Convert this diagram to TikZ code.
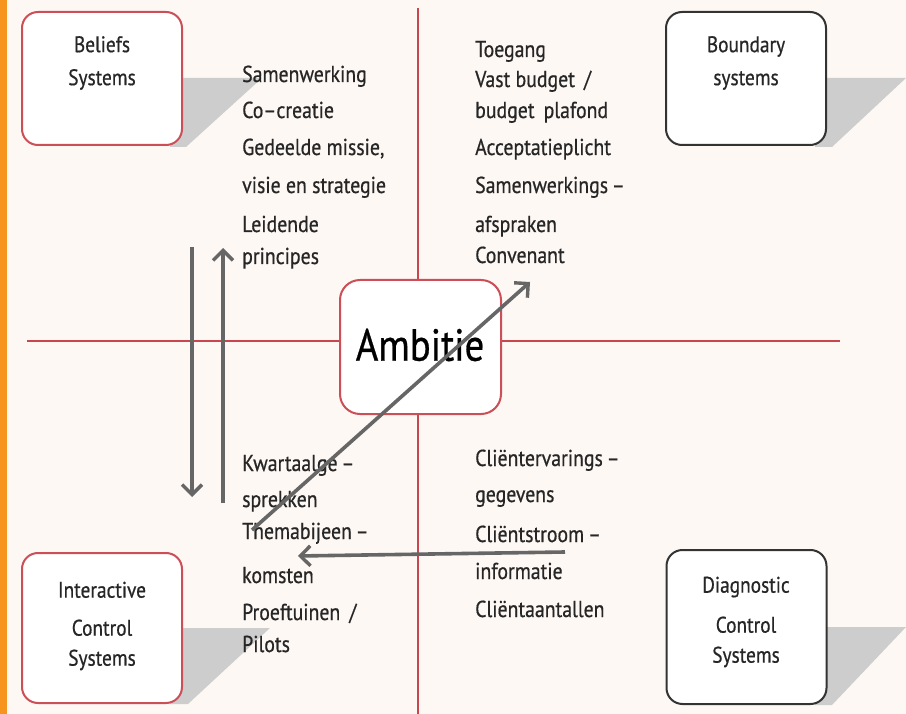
\documentclass[tikz,border=0pt]{standalone}
\usepackage{fontspec}
\setmainfont[FakeStretch=0.86, FakeBold=0.6]{PT Sans}
\usepackage{xcolor}
\usetikzlibrary{arrows.meta, positioning, calc}

\definecolor{bgcream}{HTML}{FDF8F4}
\definecolor{edgeorange}{HTML}{F7941D}
\definecolor{axisred}{HTML}{C8474F}
\definecolor{boxred}{HTML}{CC4F57}
\definecolor{boxdark}{HTML}{333333}
\definecolor{flowgray}{HTML}{666666}
\definecolor{shadowgray}{HTML}{CDCDCD}
\definecolor{txtgray}{HTML}{262626}

\begin{document}
\begin{tikzpicture}[x=1pt, y=-1pt,
    sysbox/.style={draw=#1, line width=2pt, fill=white, rounded corners=16pt,
                   minimum width=160pt, minimum height=133pt, inner sep=0pt},
    syslbl/.style={align=center, text=txtgray, font=\fontsize{22.5}{33}\selectfont},
    itemtxt/.style={anchor=base west, inner sep=0pt, text=txtgray, font=\fontsize{23}{28}\selectfont},
    axis/.style={draw=axisred, line width=2.4pt},
    flow/.style={draw=flowgray, line width=3.6pt, -{Straight Barb[length=10pt, width=20pt, line width=3.4pt]}},
    ]
    % background and orange edge
    \fill[bgcream] (0,0) rectangle (906,714);
    \fill[edgeorange] (0,0) rectangle (7,714);
    \useasboundingbox (0,0) rectangle (906,714);

    % quadrant axes
    \draw[axis] (27,341) -- (840,341);
    \draw[axis] (418,8) -- (418,714);

    % shadows behind the four system boxes
    \fill[shadowgray] (170,78) -- (262,78) -- (186,147) -- (170,147) -- cycle;
    \fill[shadowgray] (815,78) -- (906,78) -- (832,147) -- (815,147) -- cycle;
    \fill[shadowgray] (170,628) -- (270,628) -- (188,704) -- (170,704) -- cycle;
    \fill[shadowgray] (815,627) -- (906,627) -- (832,705) -- (815,705) -- cycle;

    % system boxes
    \node[sysbox=boxred] (beliefs) at (102,78.5) {};
    \node[sysbox=boxdark] (boundary) at (746,78.5) {};
    \node[sysbox=boxred, minimum height=150pt] (interactive) at (102,628) {};
    \node[sysbox=boxdark, minimum height=154pt] (diagnostic) at (746.5,627) {};

    \node[syslbl] (beliefsT) at (102,63) {Beliefs\\Systems};
    \node[syslbl] (boundaryT) at (746,63) {Boundary\\systems};
    \node[syslbl] (interactiveT) at (102,626) {Interactive\\[5pt]Control\\[-3pt]Systems};
    \node[syslbl] (diagnosticT) at (746,622) {Diagnostic\\[7pt]Control\\[-3pt]Systems};

    % centre
    \node[sysbox=boxred, minimum width=161pt, minimum height=134pt, rounded corners=20pt] (ambitie) at (420.5,347) {};
    \node[text=black, font=\fontsize{45}{50}\selectfont] (ambitieT) at (420,345) {Ambitie};

    % lever texts
    \foreach \y/\t [count=\i] in {82/Samenwerking, 118/Co–creatie, 155/{Gedeelde missie,},
                                  193/visie en strategie, 232/Leidende, 264/principes}
        \node[itemtxt] (bel\i) at (242,\y) {\t};
    \foreach \y/\t [count=\i] in {57/Toegang, 87/{Vast budget \,/}, 118/{budget\, plafond},
                                  155/Acceptatieplicht, 193/Samenwerkings\,–, 232/afspraken, 263/Convenant}
        \node[itemtxt] (bnd\i) at (475,\y) {\t};
    \foreach \y/\t [count=\i] in {471/Kwartaalge\,–, 507/sprekken, 539/Themabijeen\,–,
                                  583/komsten, 620/{Proeftuinen \,/}, 652/Pilots}
        \node[itemtxt] (int\i) at (242,\y) {\t};
    \foreach \y/\t [count=\i] in {466/Cliëntervarings\,–, 502/gegevens, 542/Cliëntstroom\,–,
                                  579/informatie, 617/Cliëntaantallen}
        \node[itemtxt] (dia\i) at (475,\y) {\t};

    % flows between the levers
    \coordinate (downS) at (192,247);
    \coordinate (downE) at (192,497);
    \coordinate (upS) at (223,503);
    \coordinate (upE) at (223,248);
    \coordinate (diagS) at (252,530);
    \coordinate (diagE) at (530,282);
    \coordinate (backS) at (565,552);
    \coordinate (backE) at (298,556);
    \draw[flow] (downS) -- (downE);
    \draw[flow] (upS) -- (upE);
    \draw[flow] (diagS) -- (diagE);
    \draw[flow] (backS) -- (backE);
\end{tikzpicture}
\end{document}
